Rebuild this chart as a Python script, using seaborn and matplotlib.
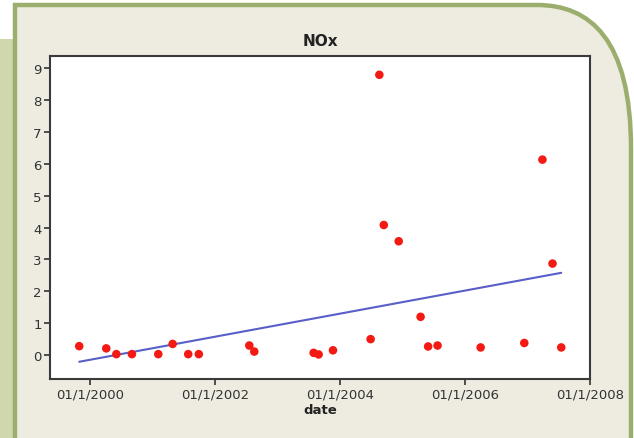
import matplotlib
matplotlib.use("Agg")
import matplotlib.pyplot as plt
import matplotlib.dates as mdates
from matplotlib.path import Path
from matplotlib.patches import PathPatch, Rectangle
import numpy as np
import pandas as pd
import seaborn as sns

dates = ["1999-10-30", "2000-04-05", "2000-06-03", "2000-09-02", "2001-02-03",
         "2001-04-28", "2001-07-28", "2001-09-28", "2002-07-20", "2002-08-18",
         "2003-07-31", "2003-08-29", "2003-11-21", "2004-06-28", "2004-08-18",
         "2004-09-13", "2004-12-09", "2005-04-16", "2005-05-30", "2005-07-24",
         "2006-04-02", "2006-12-13", "2007-03-29", "2007-05-27", "2007-07-17"]
nox = [0.28, 0.21, 0.03, 0.03, 0.03,
       0.35, 0.03, 0.03, 0.30, 0.11,
       0.07, 0.02, 0.15, 0.50, 8.79,
       4.08, 3.57, 1.20, 0.27, 0.30,
       0.24, 0.38, 6.13, 2.87, 0.24]
fit_dates = ["1999-10-30", "2007-07-17"]
fit_vals = [-0.21, 2.58]
tick_dates = ["2000-01-01", "2002-01-01", "2004-01-01", "2006-01-01", "2008-01-01"]
tick_labels = ["01/1/2000", "01/1/2002", "01/1/2004", "01/1/2006", "01/1/2008"]
y_ticks = [0, 1, 2, 3, 4, 5, 6, 7, 8, 9]

df = pd.DataFrame({"date": mdates.date2num(pd.to_datetime(dates)), "NOx": nox})
fit = pd.DataFrame({"date": mdates.date2num(pd.to_datetime(fit_dates)), "NOx": fit_vals})

sns.set_style("white")
W, H = 634, 439
fig = plt.figure(figsize=(W / 100, H / 100), dpi=100, facecolor="white")

# decorative frame (pixel coordinates, y from top)
bg = fig.add_axes([0, 0, 1, 1], zorder=-10)
bg.set_xlim(0, W)
bg.set_ylim(H, 0)
bg.axis("off")
bg.add_patch(Rectangle((0, 40), 15, H - 40, facecolor="#cfd7af", edgecolor="none"))
verts = [(15, H + 5), (15, 6), (537, 6),
         (590, 6), (631, 40), (631, 150),
         (631, H + 5)]
codes = [Path.MOVETO, Path.LINETO, Path.LINETO,
         Path.CURVE4, Path.CURVE4, Path.CURVE4,
         Path.LINETO]
bg.add_patch(PathPatch(Path(verts, codes), facecolor="#eeebe1",
                       edgecolor="#9bae6e", linewidth=3.2))

ax = fig.add_axes([50 / W, 1 - 380 / H, 540 / W, 323 / H])
ax.set_facecolor("white")
sns.lineplot(data=fit, x="date", y="NOx", ax=ax, color="#5a5fc8", linewidth=1.5)
sns.scatterplot(data=df, x="date", y="NOx", ax=ax, color="#f41a14", s=38,
                edgecolor="none", zorder=3)

x0 = mdates.date2num(pd.Timestamp("2000-01-01"))
ax.set_xlim(x0 - 0.64 * 365.25, mdates.date2num(pd.Timestamp("2008-01-01")))
ax.set_ylim(-0.75, 9.38)
ax.set_xticks(mdates.date2num(pd.to_datetime(tick_dates)))
ax.set_xticklabels(tick_labels)
ax.set_yticks(y_ticks)
ax.set_yticklabels([str(v) for v in y_ticks])
ax.tick_params(axis="both", direction="out", length=4, width=1.2, color="#333333",
               labelsize=9.5, labelcolor="#333333", pad=2, bottom=True, left=True)
for sp in ax.spines.values():
    sp.set_color("#3a3a3a")
    sp.set_linewidth(1.5)
ax.set_xlabel("date", fontsize=9.5, fontweight="bold", color="#222222", labelpad=2)
ax.set_ylabel("")
ax.set_title("NOx", fontsize=11, fontweight="bold", color="#222222", pad=8)

fig.savefig("out.png", dpi=100, facecolor="white")
